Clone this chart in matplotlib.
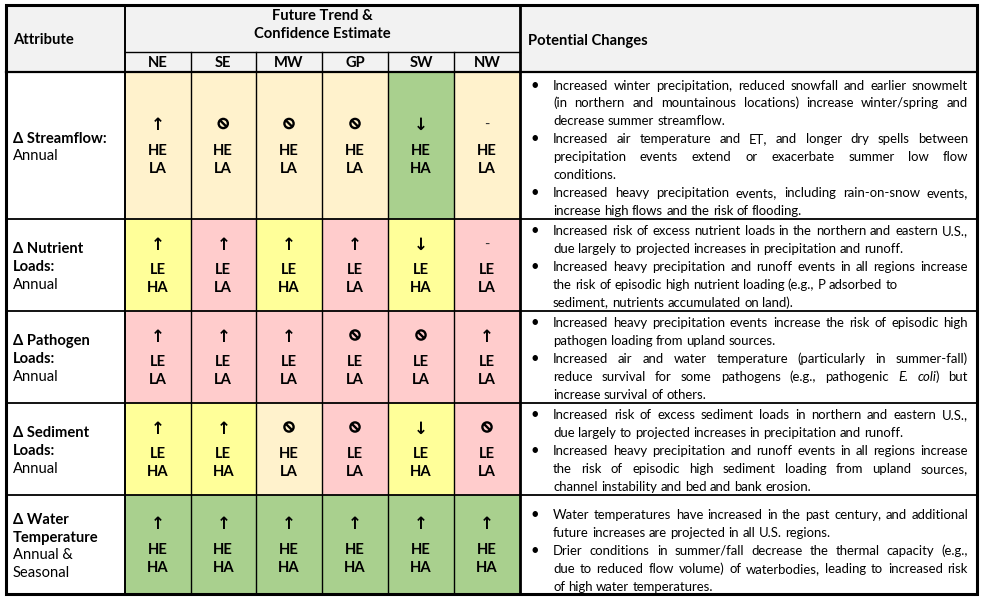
import matplotlib
matplotlib.use("Agg")
import matplotlib.pyplot as plt
from matplotlib.patches import Rectangle, Circle

plt.rcParams['font.family'] = ['Lato', 'DejaVu Sans']

# ---- table content -------------------------------------------------------
REGIONS = ["NE", "SE", "MW", "GP", "SW", "NW"]

ATTR_BOLD = [["Δ Streamflow:"], ["Δ Nutrient", "Loads:"], ["Δ Pathogen", "Loads:"],
             ["Δ Sediment", "Loads:"], ["Δ Water", "Temperature"]]
ATTR_PLAIN = [["Annual"], ["Annual"], ["Annual"], ["Annual"], ["Annual &", "Seasonal"]]

# up / down / none (no change expected) / nc (not characterised)
TREND = [
    ["up", "none", "none", "none", "down", "nc"],
    ["up", "up", "up", "up", "down", "nc"],
    ["up", "up", "up", "none", "none", "up"],
    ["up", "up", "none", "none", "down", "none"],
    ["up", "up", "up", "up", "up", "up"],
]
EVIDENCE = [
    ["HE", "HE", "HE", "HE", "HE", "HE"],
    ["LE", "LE", "LE", "LE", "LE", "LE"],
    ["LE", "LE", "LE", "LE", "LE", "LE"],
    ["LE", "LE", "HE", "LE", "LE", "LE"],
    ["HE", "HE", "HE", "HE", "HE", "HE"],
]
AGREEMENT = [
    ["LA", "LA", "LA", "LA", "HA", "LA"],
    ["HA", "LA", "HA", "LA", "HA", "LA"],
    ["LA", "LA", "LA", "LA", "LA", "LA"],
    ["HA", "HA", "LA", "LA", "HA", "LA"],
    ["HA", "HA", "HA", "HA", "HA", "HA"],
]
CELL_COLORS = {("HE", "HA"): "#A9D08E", ("HE", "LA"): "#FFF2CC",
               ("LE", "HA"): "#FFFF99", ("LE", "LA"): "#FFCCCC"}

# bullets, pre-broken into lines; "_" marks italics, trailing "\n" = hard break
CHANGES = [
    [["Increased winter precipitation, reduced snowfall and earlier snowmelt",
      "(in northern and mountainous locations) increase winter/spring and",
      "decrease summer streamflow."],
     ["Increased air temperature and ET, and longer dry spells between",
      "precipitation events extend or exacerbate summer low flow",
      "conditions."],
     ["Increased heavy precipitation events, including rain-on-snow events,",
      "increase high flows and the risk of flooding."]],
    [["Increased risk of excess nutrient loads in the northern and eastern U.S.,",
      "due largely to projected increases in precipitation and runoff."],
     ["Increased heavy precipitation and runoff events in all regions increase",
      "the risk of episodic high nutrient loading (e.g., P adsorbed to\n",
      "sediment, nutrients accumulated on land)."]],
    [["Increased heavy precipitation events increase the risk of episodic high",
      "pathogen loading from upland sources."],
     ["Increased air and water temperature (particularly in summer-fall)",
      "reduce survival for some pathogens (e.g., pathogenic _E._ _coli_) but",
      "increase survival of others."]],
    [["Increased risk of excess sediment loads in northern and eastern U.S.,",
      "due largely to projected increases in precipitation and runoff."],
     ["Increased heavy precipitation and runoff events in all regions increase",
      "the risk of episodic high sediment loading from upland sources,",
      "channel instability and bed and bank erosion."]],
    [["Water temperatures have increased in the past century, and additional",
      "future increases are projected in all U.S. regions."],
     ["Drier conditions in summer/fall decrease the thermal capacity (e.g.,",
      "due to reduced flow volume) of waterbodies, leading to increased risk",
      "of high water temperatures."]],
]

# ---- layout (pixels) -----------------------------------------------------
W, H = 988, 605
COL_X = [6, 125, 190.5, 256, 322, 388, 454, 520, 977]
ROW_Y = [5, 72, 219, 311, 403, 495, 594]
SUB_Y = 52
TEXT_PAD = [17.5, 16, 16, 16, 24]
TEXT_X0, TEXT_X1 = 553, 968
LINE_H = 17.9
FS = 10.6

fig = plt.figure(figsize=(W / 100, H / 100), dpi=100)
ax = fig.add_axes([0, 0, 1, 1])
ax.set_xlim(0, W)
ax.set_ylim(H, 0)
ax.axis('off')
renderer = fig.canvas.get_renderer()


def width_of(t):
    return t.get_window_extent(renderer).width


def parse_word(word):
    segs, ital = [], False
    for k, part in enumerate(word.split("_")):
        if k > 0:
            ital = not ital
        if part:
            segs.append((part, ital))
    return segs


def natural_width(s, size):
    t = ax.text(0, 0, s.replace("_", "").strip(), fontsize=size)
    w = width_of(t)
    t.remove()
    return w


# shrink the body text just enough that the longest line fits with normal spacing
widest = max(natural_width(l, FS) for row in CHANGES for b in row for l in b)
FS_BODY = FS * min(1.0, (TEXT_X1 - TEXT_X0 - 2) / widest)
SPACE = natural_width("x x", FS_BODY) - natural_width("xx", FS_BODY)


def draw_line(line, x0, x1, y, justify):
    words = []
    for w in line.split():
        texts = []
        for s, it in parse_word(w):
            texts.append(ax.text(0, y, s, fontsize=FS_BODY, va='baseline',
                                 style='italic' if it else 'normal'))
        widths = [width_of(t) for t in texts]
        words.append((texts, widths))
    total = sum(sum(ws) for _, ws in words)
    gap = SPACE
    if justify and len(words) > 1:
        gap = (x1 - x0 - total) / (len(words) - 1)
    x = x0
    for texts, widths in words:
        for t, w in zip(texts, widths):
            t.set_x(x)
            x += w
        x += gap


# header background
ax.add_patch(Rectangle((COL_X[0], ROW_Y[0]), COL_X[-1] - COL_X[0], ROW_Y[1] - ROW_Y[0],
                       facecolor="#F2F2F2", edgecolor='none', zorder=0))

# region cells
for r in range(len(TREND)):
    y0, y1 = ROW_Y[r + 1], ROW_Y[r + 2]
    cy = (y0 + y1) / 2
    for c in range(len(REGIONS)):
        x0, x1 = COL_X[c + 1], COL_X[c + 2]
        cx = (x0 + x1) / 2
        ev, ag = EVIDENCE[r][c], AGREEMENT[r][c]
        ax.add_patch(Rectangle((x0, y0), x1 - x0, y1 - y0,
                               facecolor=CELL_COLORS[(ev, ag)], edgecolor='none', zorder=0))
        sy = cy - 20.5
        kind = TREND[r][c]
        if kind == "up":
            ax.text(cx, sy, "↑", fontsize=12, fontweight='bold', ha='center', va='center',
                    family='DejaVu Sans')
        elif kind == "down":
            ax.text(cx, sy, "↓", fontsize=12, fontweight='bold', ha='center', va='center',
                    family='DejaVu Sans')
        elif kind == "none":
            ax.add_patch(Circle((cx, sy - 1.5), 4.6, facecolor='none', edgecolor='black', lw=1.7))
            ax.plot([cx - 3.2, cx + 3.2], [sy - 4.7, sy + 1.7], color='black', lw=1.7,
                    solid_capstyle='butt')
        else:
            ax.text(cx, sy, "-", fontsize=FS, ha='center', va='center', color='#333333')
        ax.text(cx, cy + 9.5, ev, fontsize=FS, fontweight='bold', ha='center', va='baseline')
        ax.text(cx, cy + 27.5, ag, fontsize=FS, fontweight='bold', ha='center', va='baseline')

    # attribute column
    lines = [(s, 'bold') for s in ATTR_BOLD[r]] + [(s, 'normal') for s in ATTR_PLAIN[r]]
    first = cy + 1.5 - (len(lines) - 1) * LINE_H / 2 + 4.5
    for k, (s, wt) in enumerate(lines):
        ax.text(13, first + k * LINE_H, s, fontsize=FS, fontweight=wt, va='baseline')

    # potential changes column
    by = y0 + TEXT_PAD[r]
    for bullet in CHANGES[r]:
        ax.text(535, by, "•", fontsize=FS, ha='center', va='baseline')
        for k, line in enumerate(bullet):
            hard = line.endswith("\n")
            last = k == len(bullet) - 1
            draw_line(line.strip(), TEXT_X0, TEXT_X1, by, justify=not (hard or last))
            by += LINE_H

# header text
ax.text(13, 44, "Attribute", fontsize=FS, fontweight='bold', va='baseline')
mid = (COL_X[1] + COL_X[7]) / 2
ax.text(mid, 20.5, "Future Trend &", fontsize=FS, fontweight='bold', ha='center', va='baseline')
ax.text(mid, 38, "Confidence Estimate", fontsize=FS, fontweight='bold', ha='center', va='baseline')
for c, name in enumerate(REGIONS):
    ax.text((COL_X[c + 1] + COL_X[c + 2]) / 2, 67, name, fontsize=FS, fontweight='bold',
            ha='center', va='baseline')
ax.text(528, 44.5, "Potential Changes", fontsize=FS, fontweight='bold', va='baseline')

# grid lines
for c in range(2, 7):
    ax.plot([COL_X[c], COL_X[c]], [SUB_Y, ROW_Y[-1]], color='black', lw=1.0)
ax.plot([COL_X[1], COL_X[7]], [SUB_Y, SUB_Y], color='black', lw=1.0)
ax.plot([COL_X[1], COL_X[1]], [ROW_Y[0], ROW_Y[-1]], color='black', lw=1.4)
ax.plot([COL_X[7], COL_X[7]], [ROW_Y[0], ROW_Y[-1]], color='black', lw=2.0)
ax.plot([COL_X[0], COL_X[-1]], [ROW_Y[1], ROW_Y[1]], color='black', lw=1.6)
for y in ROW_Y[2:-1]:
    ax.plot([COL_X[0], COL_X[-1]], [y, y], color='black', lw=1.3)
ax.add_patch(Rectangle((COL_X[0], ROW_Y[0]), COL_X[-1] - COL_X[0], ROW_Y[-1] - ROW_Y[0],
                       facecolor='none', edgecolor='black', lw=2.2, zorder=5))

fig.savefig("out.png", dpi=100, facecolor='white')
